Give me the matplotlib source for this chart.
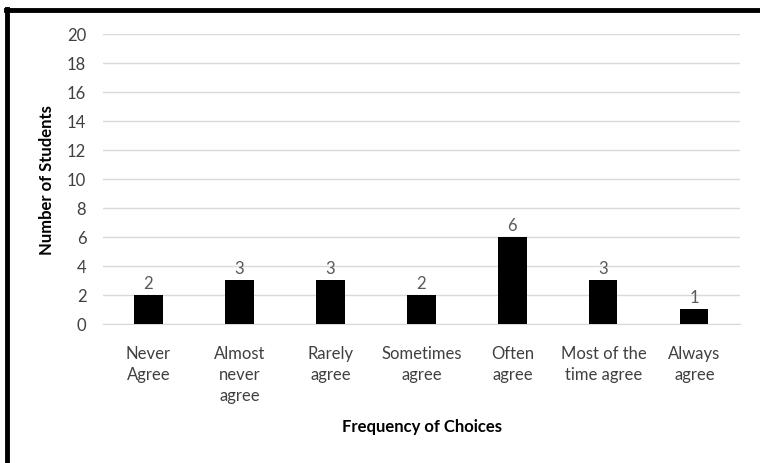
import numpy as np
import matplotlib.pyplot as plt
from matplotlib.lines import Line2D

plt.rcParams['font.family'] = ['Lato', 'DejaVu Sans']

# Survey responses
categories = ['Never\nAgree', 'Almost\nnever\nagree', 'Rarely\nagree', 'Sometimes\nagree',
              'Often\nagree', 'Most of the\ntime agree', 'Always\nagree']
counts = [2, 3, 3, 2, 6, 3, 1]
y_ticks = list(range(0, 21, 2))

grey = '#595959'

fig = plt.figure(figsize=(7.6, 4.64), dpi=100)
ax = fig.add_axes([0.1355, 0.2996, 0.838, 0.625])

x = np.arange(len(categories))
bars = ax.bar(x, counts, width=0.31, color='black', zorder=3)
for xi, c in zip(x, counts):
    ax.annotate(str(c), (xi, c), xytext=(0, 3), textcoords='offset points',
                ha='center', va='bottom', fontsize=12, color=grey)

ax.set_xlim(-0.5, len(categories) - 0.5)
ax.set_ylim(0, 20)
ax.set_yticks(y_ticks)
ax.set_xticks(x)
ax.set_xticklabels(categories, fontsize=12, color='#404040', linespacing=1.4)
ax.tick_params(axis='y', labelsize=12, labelcolor='#404040', length=0, pad=12)
ax.tick_params(axis='x', length=0, pad=15)
ax.grid(axis='y', color='#d9d9d9', linewidth=1, zorder=0)
for side in ['top', 'right', 'left']:
    ax.spines[side].set_visible(False)
ax.spines['bottom'].set_color('#d9d9d9')

ax.set_ylabel('Number of Students', fontsize=12, fontweight='bold', labelpad=9)
fig.text(0.555, 0.07, 'Frequency of Choices', fontsize=12, fontweight='bold', ha='center')

# Thick outline along the top and left edges
fig.add_artist(Line2D([0.008, 1.0], [0.976, 0.976], color='black', linewidth=3.5,
                      transform=fig.transFigure))
fig.add_artist(Line2D([0.009, 0.009], [0.0, 0.978], color='black', linewidth=3.5,
                      transform=fig.transFigure))

fig.savefig('out.png', dpi=100)
